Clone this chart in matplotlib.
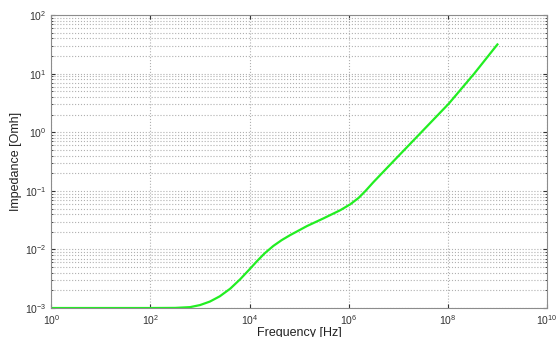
import matplotlib
matplotlib.use("Agg")
import matplotlib.pyplot as plt
import numpy as np

plt.rcParams['font.family'] = ['Liberation Sans', 'DejaVu Sans']

# values (log10 scale)
log_freq = [0, 1, 2, 2.5, 2.8, 3.0, 3.2, 3.4, 3.61, 3.81, 4.01, 4.15, 4.3, 4.48,
            4.65, 4.82, 5.16, 5.49, 5.83, 6.03, 6.2, 6.34, 6.5, 6.85, 7.18, 7.6,
            8.02, 8.53, 9.0]
log_imp = [-3.0, -3.0, -3.0, -2.998, -2.985, -2.95, -2.89, -2.8, -2.67, -2.51,
           -2.33, -2.2, -2.07, -1.94, -1.84, -1.755, -1.6, -1.47, -1.33, -1.23,
           -1.12, -1.0, -0.85, -0.54, -0.25, 0.12, 0.49, 1.0, 1.5]

freq = 10.0 ** np.array(log_freq)
imp = 10.0 ** np.array(log_imp)

xticks = [1e0, 1e2, 1e4, 1e6, 1e8, 1e10]
yticks = [1e-3, 1e-2, 1e-1, 1e0, 1e1, 1e2]

fig = plt.figure(figsize=(5.57, 3.37), dpi=100)
ax = fig.add_axes([0.092, 0.086, 0.89, 0.869])

ax.plot(freq, imp, color='#22ee22', lw=1.6)
ax.set_xscale('log')
ax.set_yscale('log')
ax.set_xlim(1e0, 1e10)
ax.set_ylim(1e-3, 1e2)
ax.set_xticks(xticks)
ax.set_yticks(yticks)
ax.xaxis.set_minor_locator(matplotlib.ticker.NullLocator())
ax.yaxis.set_minor_locator(matplotlib.ticker.LogLocator(base=10, subs=np.arange(2, 10)))
ax.yaxis.set_minor_formatter(matplotlib.ticker.NullFormatter())

ax.grid(True, which='major', color='#b0b0b0', ls=':', lw=0.8)
ax.grid(True, which='minor', axis='y', color='#b0b0b0', ls=':', lw=0.8)
ax.tick_params(which='both', direction='in', labelsize=7.5, colors='#333333',
               length=3, top=True, right=True)
ax.tick_params(which='minor', length=1.5)
for s in ax.spines.values():
    s.set_color('#8c8c8c')

ax.set_xlabel('Frequency [Hz]', fontsize=9, labelpad=0, color='#222222')
ax.set_ylabel('Impedance [Omh]', fontsize=9, labelpad=2, color='#222222')

fig.savefig('out.png', dpi=100)
